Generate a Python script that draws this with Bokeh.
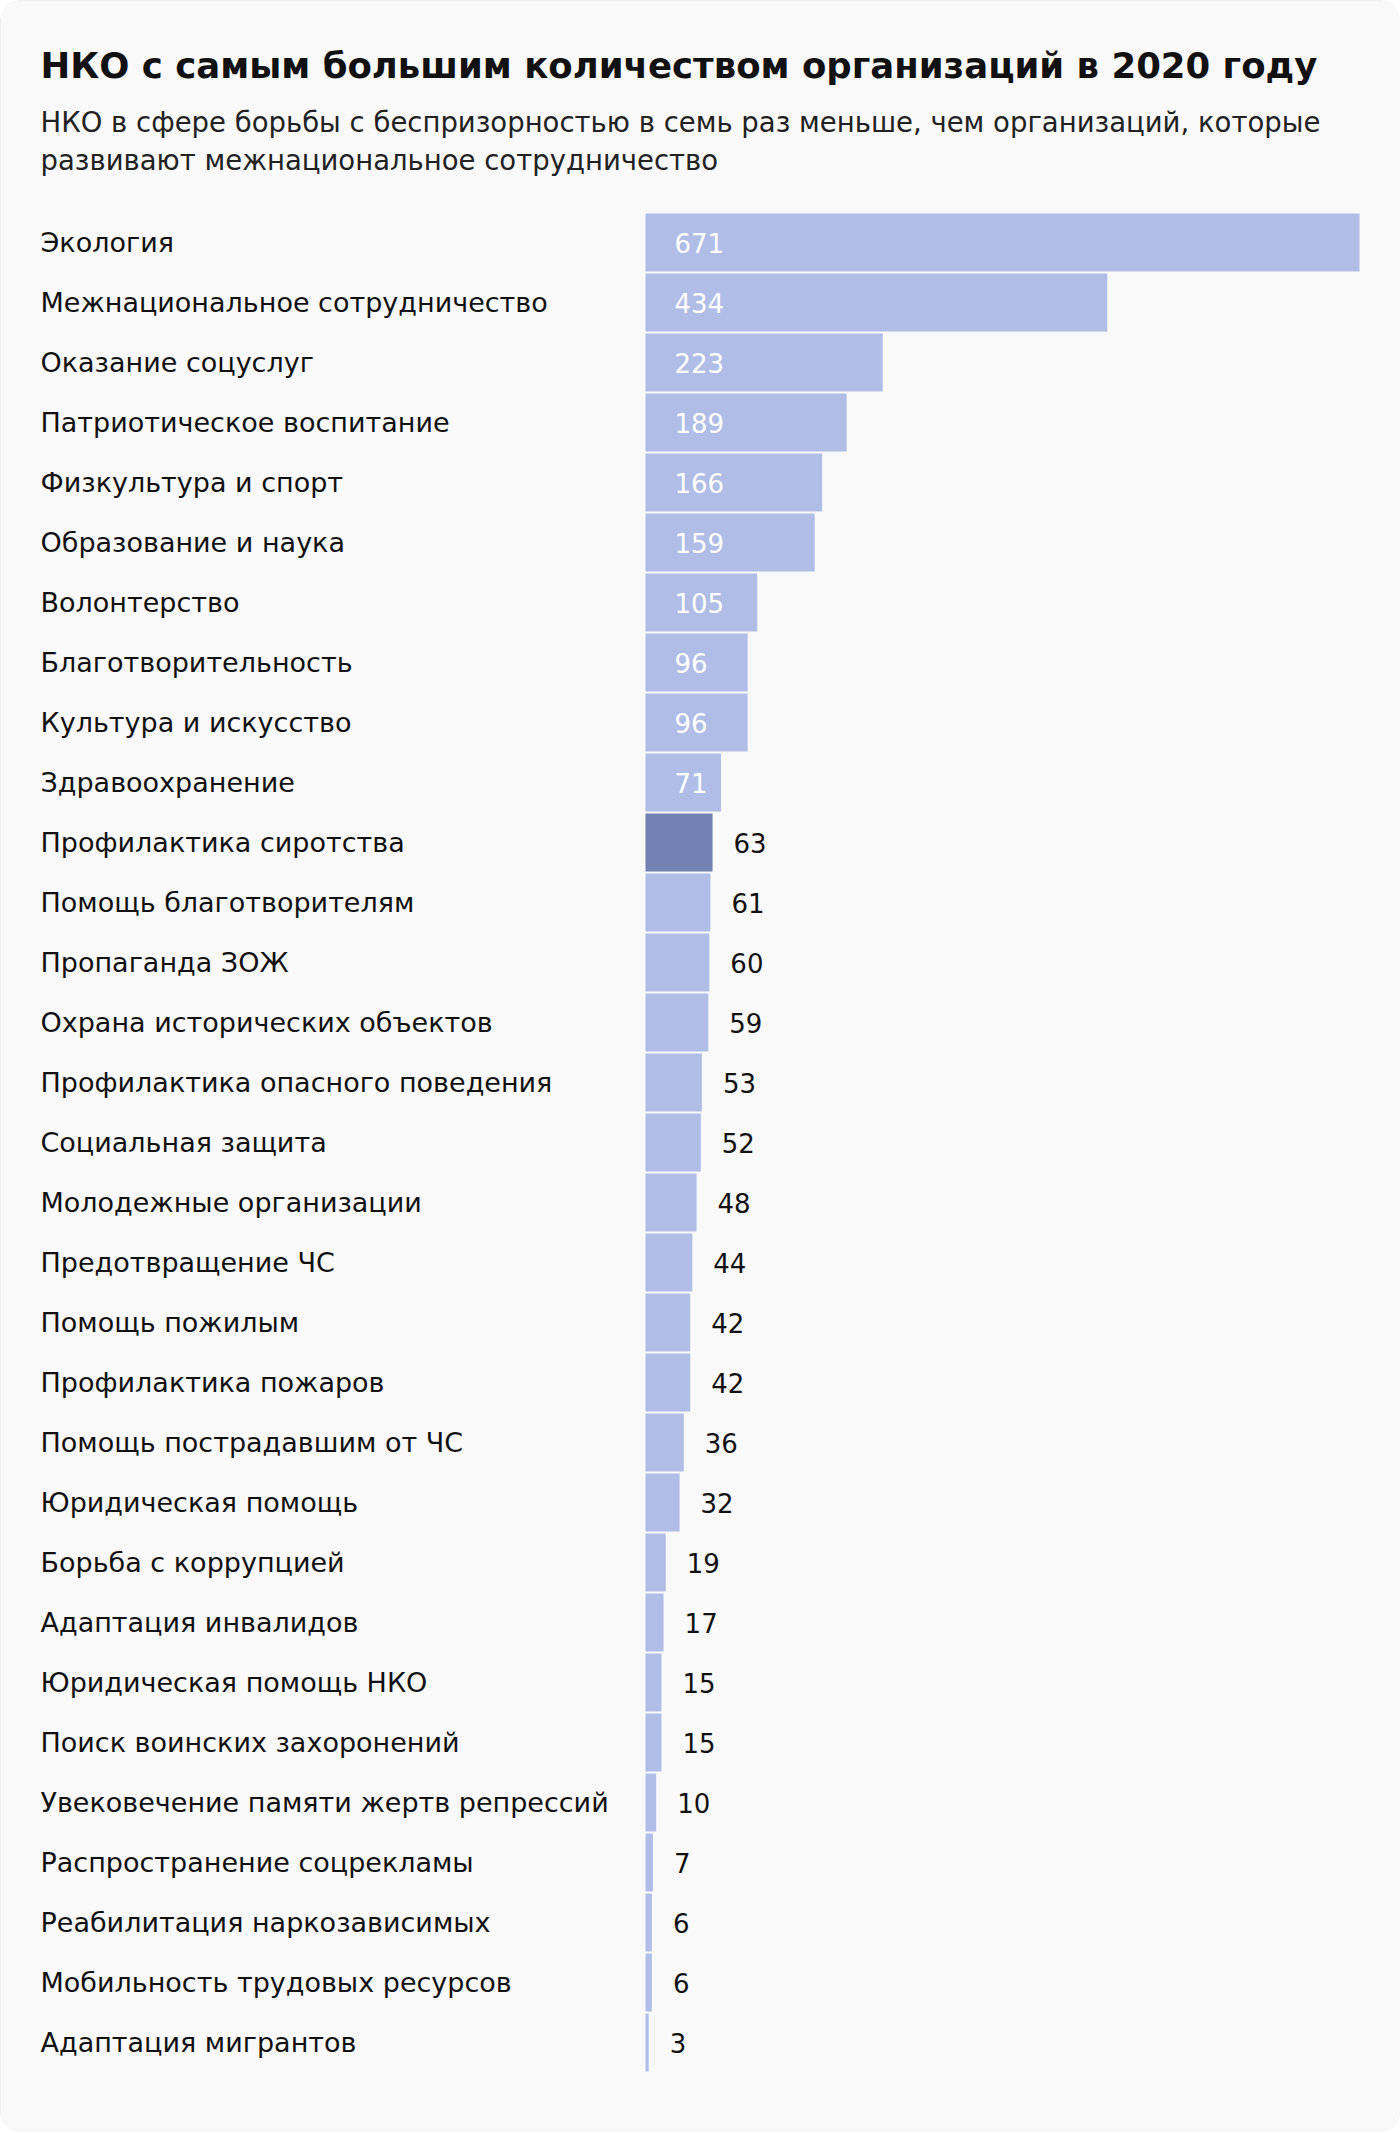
from bokeh.plotting import figure
from bokeh.models import ColumnDataSource, Range1d
from bokeh.core.properties import value
from bokeh.embed import file_html
from bokeh.resources import INLINE

title_text = "НКО с самым большим количеством организаций в 2020 году"
subtitle_lines = [
    "НКО в сфере борьбы с беспризорностью в семь раз меньше, чем организаций, которые",
    "развивают межнациональное сотрудничество",
]

categories = [
    "Экология", "Межнациональное сотрудничество", "Оказание соцуслуг",
    "Патриотическое воспитание", "Физкультура и спорт", "Образование и наука",
    "Волонтерство", "Благотворительность", "Культура и искусство",
    "Здравоохранение", "Профилактика сиротства", "Помощь благотворителям",
    "Пропаганда ЗОЖ", "Охрана исторических объектов",
    "Профилактика опасного поведения", "Социальная защита",
    "Молодежные организации", "Предотвращение ЧС", "Помощь пожилым",
    "Профилактика пожаров", "Помощь пострадавшим от ЧС", "Юридическая помощь",
    "Борьба с коррупцией", "Адаптация инвалидов", "Юридическая помощь НКО",
    "Поиск воинских захоронений", "Увековечение памяти жертв репрессий",
    "Распространение соцрекламы", "Реабилитация наркозависимых",
    "Мобильность трудовых ресурсов", "Адаптация мигрантов",
]
values = [671, 434, 223, 189, 166, 159, 105, 96, 96, 71, 63, 61, 60, 59, 53,
          52, 48, 44, 42, 42, 36, 32, 19, 17, 15, 15, 10, 7, 6, 6, 3]
highlight = "Профилактика сиротства"
inside_threshold = 70

FONT = "DejaVu Sans"
BAR = "#b0bde6"
BAR_HL = "#7281b1"

W, H = 1400, 2132
PX_PER_UNIT = 714 / 671
ZERO_X = 645
ROW_PITCH = 60
ROW0_Y = 242

x_start = -ZERO_X / PX_PER_UNIT
x_end = (W - ZERO_X) / PX_PER_UNIT
y_top = -ROW0_Y / ROW_PITCH
y_bottom = (H - ROW0_Y) / ROW_PITCH


def px_x(fx):
    return x_start + fx / PX_PER_UNIT


def px_y(fy):
    return y_top + fy / ROW_PITCH


rows = list(range(len(categories)))
colors = [BAR_HL if c == highlight else BAR for c in categories]
src = ColumnDataSource(dict(row=rows, cat=categories, val=values, color=colors,
                            label=[str(v) for v in values]))
ins = [i for i, v in enumerate(values) if v > inside_threshold]
outs = [i for i, v in enumerate(values) if v <= inside_threshold]
src_in = ColumnDataSource(dict(row=[rows[i] for i in ins], val=[values[i] for i in ins],
                               label=[str(values[i]) for i in ins]))
src_out = ColumnDataSource(dict(row=[rows[i] for i in outs], val=[values[i] for i in outs],
                                label=[str(values[i]) for i in outs]))

p = figure(width=W, height=H, x_range=Range1d(x_start, x_end),
           y_range=Range1d(y_bottom, y_top), output_backend="svg",
           toolbar_location=None, min_border=0,
           x_axis_location=None, y_axis_location=None)
p.grid.visible = False
p.outline_line_color = None
p.background_fill_color = "#f9f9f9"
p.border_fill_color = "#f9f9f9"
p.styles = {"border-radius": "22px", "overflow": "hidden",
            "box-shadow": "inset 0 0 0 2px #e6e6e6"}

p.hbar(y="row", left=0, right="val", height=58 / 60, color="color",
       line_color=None, source=src)

p.text(x=px_x(40), y="row", text="cat", source=src, text_baseline="middle",
       text_font=value(FONT), text_font_size="27px", text_color="#111111")

p.text(x=0, y="row", text="label", source=src_in, x_offset=29,
       text_baseline="middle", text_font=value(FONT), text_font_size="26px",
       text_color="#ffffff")
p.text(x="val", y="row", text="label", source=src_out, x_offset=21,
       text_baseline="middle", text_font=value(FONT), text_font_size="26px",
       text_color="#111111")

p.text(x=[px_x(40)], y=[px_y(65)], text=[title_text], text_baseline="alphabetic",
       text_font=value(FONT), text_font_size="35.5px", text_font_style="bold",
       text_color="#111111")
p.text(x=[px_x(40)] * 2, y=[px_y(121), px_y(159)], text=subtitle_lines,
       text_baseline="alphabetic", text_font=value(FONT), text_font_size="27.5px",
       text_color="#222222")

open("out.html", "w").write(file_html(p, INLINE))
